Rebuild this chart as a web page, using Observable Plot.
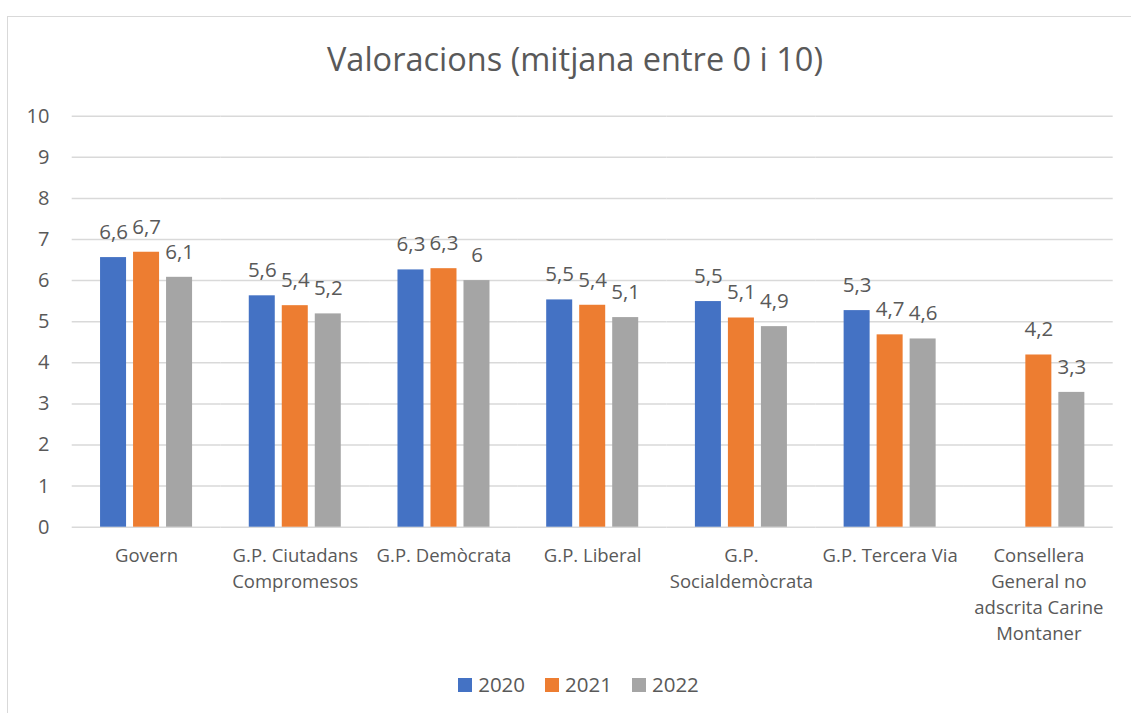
<!DOCTYPE html>
<html>
<head>
<meta charset="utf-8">
<script src="https://cdn.jsdelivr.net/npm/d3@7"></script>
<script src="https://cdn.jsdelivr.net/npm/@observablehq/plot@0.6"></script>
<style>
  html, body { margin: 0; padding: 0; background: #fff; overflow: hidden; }
  #page { position: relative; width: 1131px; height: 713px; overflow: hidden; font-family: "Open Sans", sans-serif; color: #595959; }
  #frame { position: absolute; left: 7px; top: 16px; width: 1300px; height: 900px; border: 1.5px solid #d9d9d9; box-sizing: border-box; z-index: 5; pointer-events: none; }
  #title { position: absolute; left: 0; width: 1150px; top: 43px; text-align: center; font-size: 32.5px; line-height: 1; white-space: nowrap; }
  #chart { position: absolute; left: 0; top: 90px; }
  #legend { position: absolute; left: 0; width: 1157px; top: 674px; display: flex; justify-content: center; gap: 20px; font-size: 20.5px; line-height: 1; }
  .item { display: inline-flex; align-items: center; gap: 6px; height: 20.5px; }
  .sw { width: 14px; height: 14px; display: inline-block; margin-top: 2px; }
</style>
</head>
<body>
<div id="page">
  <div id="frame"></div>
  <div id="title">Valoracions (mitjana entre 0 i 10)</div>
  <div id="chart"></div>
  <div id="legend"></div>
</div>
<script>
const categories = [
  "Govern",
  "G.P. Ciutadans Compromesos",
  "G.P. Demòcrata",
  "G.P. Liberal",
  "G.P. Socialdemòcrata",
  "G.P. Tercera Via",
  "Consellera General no adscrita Carine Montaner"
];
const categoryLabels = [
  "Govern",
  "G.P. Ciutadans\nCompromesos",
  "G.P. Demòcrata",
  "G.P. Liberal",
  "G.P.\nSocialdemòcrata",
  "G.P. Tercera Via",
  "Consellera\nGeneral no\nadscrita Carine\nMontaner"
];
const years = ["2020", "2021", "2022"];
const values2020 = [6.56, 5.63, 6.26, 5.53, 5.49, 5.27, null];
const values2021 = [6.69, 5.39, 6.29, 5.40, 5.09, 4.68, 4.19];
const values2022 = [6.08, 5.19, 6.00, 5.10, 4.88, 4.58, 3.28];
const yTicks = [0, 1, 2, 3, 4, 5, 6, 7, 8, 9, 10];
const colors = ["#4472C4", "#ED7D31", "#A5A5A5"];

const series = [values2020, values2021, values2022];
const data = [];
categories.forEach((c, i) => {
  years.forEach((y, j) => {
    const v = series[j][i];
    if (v != null) data.push({category: c, year: y, value: v});
  });
});
const fmt = v => String(Number(v.toFixed(1))).replace(".", ",");
const labelOf = new Map(categories.map((c, i) => [c, categoryLabels[i]]));

const chart = Plot.plot({
  width: 1131,
  height: 560,
  marginTop: 25.7,
  marginBottom: 123.3,
  marginLeft: 71.7,
  marginRight: 18.3,
  style: {fontFamily: "Open Sans, sans-serif", color: "#595959", background: "transparent", overflow: "visible"},
  fx: {domain: categories, padding: 0, round: false, label: null},
  x: {domain: years, paddingInner: 0.212, paddingOuter: 0.859, round: false, axis: null},
  y: {domain: [0, 10], label: null},
  color: {domain: years, range: colors},
  marks: [
    Plot.ruleY(yTicks, {stroke: "#d9d9d9", strokeWidth: 1.5}),
    Plot.barY(data, {fx: "category", x: "year", y: "value", fill: "year"}),
    Plot.text(data, {fx: "category", x: "year", y: "value", text: d => fmt(d.value),
      lineAnchor: "bottom", dy: -18.7, fontSize: 20.5, fill: "#595959"}),
    Plot.axisY({ticks: yTicks, tickSize: 0, tickPadding: 22.7, fontSize: 20, label: null,
      tickFormat: d => String(d), fill: "#595959"}),
    Plot.axisFx({anchor: "bottom", tickSize: 0, tickPadding: 16.9, fontSize: 18.5, lineHeight: 1.4,
      label: null, tickFormat: c => labelOf.get(c), fill: "#595959"})
  ]
});
document.getElementById("chart").appendChild(chart);

const legend = document.getElementById("legend");
years.forEach((y, j) => {
  const item = document.createElement("span");
  item.className = "item";
  const sw = document.createElement("span");
  sw.className = "sw";
  sw.style.background = colors[j];
  const t = document.createElement("span");
  t.textContent = y;
  item.appendChild(sw);
  item.appendChild(t);
  legend.appendChild(item);
});
</script>
</body>
</html>
